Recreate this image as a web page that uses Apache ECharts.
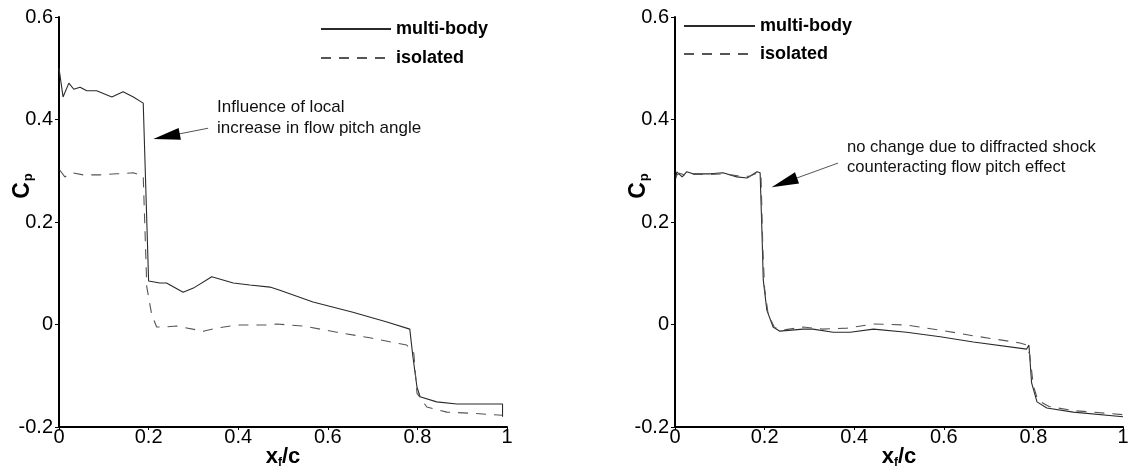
<!DOCTYPE html>
<html>
<head>
<meta charset="utf-8">
<script src="https://cdn.jsdelivr.net/npm/echarts@6/dist/echarts.min.js"></script>
<style>
  html, body { margin: 0; padding: 0; background: #fff; }
  #chart { width: 1128px; height: 472px; }
</style>
</head>
<body>
<div id="chart"></div>
<script>
// left panel: multi-body vs isolated
const leftMultiX = [0, 0.009, 0.022, 0.033, 0.047, 0.062, 0.084, 0.118, 0.143, 0.166, 0.188, 0.191, 0.2, 0.225, 0.24, 0.277, 0.3, 0.341, 0.389, 0.426, 0.471, 0.493, 0.567, 0.656, 0.732, 0.783, 0.79, 0.799, 0.806, 0.843, 0.888, 0.99, 0.99];
const leftMultiY = [0.5, 0.444, 0.471, 0.459, 0.463, 0.456, 0.456, 0.444, 0.454, 0.444, 0.432, 0.43, 0.085, 0.081, 0.081, 0.063, 0.071, 0.093, 0.081, 0.077, 0.073, 0.067, 0.044, 0.024, 0.005, -0.009, -0.063, -0.122, -0.141, -0.151, -0.155, -0.155, -0.18];
const leftIsoX = [0.002, 0.013, 0.029, 0.054, 0.092, 0.129, 0.166, 0.188, 0.196, 0.207, 0.218, 0.233, 0.263, 0.322, 0.352, 0.397, 0.464, 0.486, 0.545, 0.62, 0.694, 0.776, 0.792, 0.799, 0.821, 0.866, 0.917, 0.989];
const leftIsoY = [0.301, 0.288, 0.296, 0.292, 0.292, 0.294, 0.296, 0.29, 0.073, 0.019, -0.005, -0.005, -0.003, -0.013, -0.007, -0.001, -0.001, 0.001, -0.003, -0.015, -0.026, -0.04, -0.056, -0.134, -0.161, -0.171, -0.173, -0.177];

// right panel
const rightMultiX = [0.002, 0.004, 0.016, 0.026, 0.04, 0.078, 0.107, 0.138, 0.161, 0.183, 0.19, 0.194, 0.197, 0.205, 0.219, 0.234, 0.286, 0.308, 0.353, 0.391, 0.443, 0.517, 0.592, 0.666, 0.785, 0.79, 0.796, 0.808, 0.83, 0.889, 1.0];
const rightMultiY = [0.285, 0.298, 0.288, 0.298, 0.294, 0.294, 0.296, 0.288, 0.286, 0.298, 0.296, 0.184, 0.087, 0.028, -0.005, -0.013, -0.009, -0.009, -0.015, -0.015, -0.009, -0.015, -0.024, -0.034, -0.048, -0.04, -0.114, -0.151, -0.163, -0.171, -0.18];
const rightIsoX = [0.002, 0.01, 0.02, 0.04, 0.08, 0.11, 0.14, 0.165, 0.185, 0.192, 0.196, 0.2, 0.208, 0.222, 0.24, 0.286, 0.33, 0.384, 0.443, 0.517, 0.592, 0.666, 0.77, 0.785, 0.792, 0.8, 0.81, 0.835, 0.89, 1.0];
const rightIsoY = [0.29, 0.295, 0.292, 0.293, 0.293, 0.294, 0.29, 0.289, 0.296, 0.29, 0.15, 0.07, 0.02, -0.006, -0.011, -0.005, -0.009, -0.007, 0.001, -0.001, -0.011, -0.022, -0.036, -0.04, -0.06, -0.12, -0.148, -0.16, -0.168, -0.176];

const xTicks = [0, 0.2, 0.4, 0.6, 0.8, 1];
const yTicks = [-0.2, 0, 0.2, 0.4, 0.6];

// annotation arrows, [tail, head centre] in data units
const leftArrow = [[0.333, 0.383], [0.240, 0.367]];
const rightArrow = [[0.364, 0.315], [0.244, 0.277]];
const leftNote = 'Influence of local\nincrease in flow pitch angle';
const rightNote = 'no change due to diffracted shock\ncounteracting flow pitch effect';

const FONT = '"Liberation Sans", Arial, sans-serif';

function pairs(xs, ys) {
  return xs.map((x, i) => [x, ys[i]]);
}

function xAxis(gridIndex) {
  return {
    type: 'value', gridIndex: gridIndex,
    min: xTicks[0], max: xTicks[xTicks.length - 1], interval: 0.2,
    name: '{x|x}{f|f}{x|/c}',
    nameLocation: 'middle', nameGap: 18, nameMoveOverlap: false,
    nameTextStyle: {
      rich: {
        x: { fontFamily: FONT, fontWeight: 'bold', fontSize: 22, color: '#000' },
        f: { fontFamily: FONT, fontWeight: 'bold', fontSize: 12, color: '#000', padding: [12, 0, 0, 0] }
      }
    },
    axisLine: { onZero: false, lineStyle: { color: '#000', width: 2 } },
    axisTick: { show: true, length: 3, lineStyle: { color: '#000', width: 1 } },
    axisLabel: { margin: 0, fontFamily: FONT, fontSize: 20, color: '#000' },
    splitLine: { show: false }
  };
}

function yAxis(gridIndex) {
  return {
    type: 'value', gridIndex: gridIndex,
    min: yTicks[0], max: yTicks[yTicks.length - 1], interval: 0.2,
    name: '{c|C}{p|p}',
    nameLocation: 'middle', nameRotate: 90, nameGap: 24, nameMoveOverlap: false,
    nameTextStyle: {
      padding: [0, 0, 0, 72],
      rich: {
        c: { fontFamily: FONT, fontWeight: 'bold', fontSize: 23, color: '#000' },
        p: { fontFamily: FONT, fontWeight: 'bold', fontSize: 13, color: '#000', padding: [12, 0, 0, 1] }
      }
    },
    axisLine: { onZero: false, lineStyle: { color: '#000', width: 2 } },
    axisTick: { show: true, length: 4, lineStyle: { color: '#000', width: 1 } },
    axisLabel: { margin: 6, fontFamily: FONT, fontSize: 20, color: '#000' },
    splitLine: { show: false }
  };
}

// thin grey shaft plus a short black piece carrying the filled head
function arrow(a) {
  const tail = a[0], head = a[1];
  const near = [head[0] + (tail[0] - head[0]) * 0.1, head[1] + (tail[1] - head[1]) * 0.1];
  return {
    silent: true,
    symbol: 'none',
    label: { show: false },
    lineStyle: { color: '#555', width: 1, type: 'solid' },
    data: [
      [{ coord: tail }, { coord: head }],
      [
        { coord: near, lineStyle: { color: '#000', width: 1, type: 'solid' } },
        { coord: head, symbol: 'triangle', symbolSize: [12, 27] }
      ]
    ]
  };
}

function series(name, gridIdx, data, dashed, note) {
  const s = {
    name: name, type: 'line', xAxisIndex: gridIdx, yAxisIndex: gridIdx,
    data: data, symbol: 'none', smooth: false,
    lineStyle: dashed ? { color: '#555', width: 1.1, type: [10, 8] } : { color: '#2a2a2a', width: 1.1 },
    itemStyle: { color: dashed ? '#555' : '#2a2a2a' }
  };
  if (note) s.markLine = arrow(note);
  return s;
}

const legendBase = {
  orient: 'vertical', itemHeight: 14, selectedMode: false, padding: 0,
  data: ['multi-body', 'isolated'],
  itemStyle: { opacity: 0 },
  textStyle: { fontFamily: FONT, fontWeight: 'bold', fontSize: 18, color: '#000' }
};

const chart = echarts.init(document.getElementById('chart'));
chart.setOption({
  animation: false,
  backgroundColor: '#fff',
  grid: [
    { left: 59, top: 17, width: 448, height: 410, containLabel: false, outerBoundsMode: 'none' },
    { left: 675, top: 17, width: 448, height: 410, containLabel: false, outerBoundsMode: 'none' }
  ],
  xAxis: [xAxis(0), xAxis(1)],
  yAxis: [yAxis(0), yAxis(1)],
  legend: [
    Object.assign({}, legendBase, { left: 320, top: 20, itemWidth: 70, itemGap: 11 }),
    Object.assign({}, legendBase, { left: 683, top: 17, itemWidth: 71, itemGap: 10 })
  ],
  graphic: [
    { type: 'text', left: 217, top: 97, style: { text: leftNote, font: '17px ' + FONT, lineHeight: 21, fill: '#111' } },
    { type: 'text', left: 847, top: 137, style: { text: rightNote, font: '16.6px ' + FONT, lineHeight: 20, fill: '#111' } }
  ],
  series: [
    series('multi-body', 0, pairs(leftMultiX, leftMultiY), false, leftArrow),
    series('isolated', 0, pairs(leftIsoX, leftIsoY), true),
    series('multi-body', 1, pairs(rightMultiX, rightMultiY), false, rightArrow),
    series('isolated', 1, pairs(rightIsoX, rightIsoY), true)
  ]
});
</script>
</body>
</html>
